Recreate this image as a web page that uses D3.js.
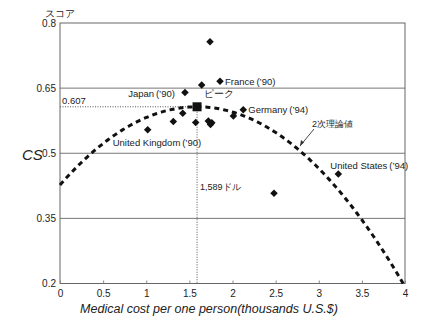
<!DOCTYPE html>
<html>
<head>
<meta charset="utf-8">
<script src="https://cdn.jsdelivr.net/npm/d3@7"></script>
<style>
  html, body { margin: 0; padding: 0; background: #fff; }
  svg { display: block; }
  text { font-family: "Liberation Sans", Arial, sans-serif; fill: #222; }
</style>
</head>
<body>
<svg id="chart" width="438" height="327"></svg>
<script>
// Country observations: medical cost per person (thousand US$) vs CS score
const costX = [1.739, 1.855, 1.643, 1.449, 1.423, 1.314, 1.573, 1.72, 1.76, 1.745, 1.017, 2.01, 2.125, 3.227, 2.481];
const scoreY = [0.757, 0.666, 0.657, 0.640, 0.592, 0.573, 0.571, 0.574, 0.570, 0.566, 0.554, 0.586, 0.600, 0.452, 0.408];

// Labelled countries
const labelNames = ["Japan\u2009(\u201990)", "France\u2009(\u201990)", "Germany\u2009(\u201994)", "United Kingdom\u2009(\u201990)", "United States\u2009(\u201994)"];
const labelX = [1.449, 1.855, 2.125, 1.017, 3.227];
const labelY = [0.640, 0.666, 0.600, 0.554, 0.452];

// Peak of the fitted quadratic
const peakX = 1.589;
const peakY = 0.607;
const curveA = 0.0713;      // y = peakY - curveA * (x - peakX)^2

const xTicks = [0, 0.5, 1, 1.5, 2, 2.5, 3, 3.5, 4];
const yTicks = [0.2, 0.35, 0.5, 0.65, 0.8];

const svg = d3.select("#chart");
const x = d3.scaleLinear().domain([0, 4]).range([60, 405]);
const y = d3.scaleLinear().domain([0.2, 0.8]).range([283.5, 23]);

// horizontal grid lines
svg.append("g").selectAll("line").data(yTicks.slice(1, 4)).join("line")
  .attr("x1", x(0)).attr("x2", x(4))
  .attr("y1", d => y(d)).attr("y2", d => y(d))
  .attr("stroke", "#777").attr("stroke-width", 1);

// frame
svg.append("rect")
  .attr("x", x(0)).attr("y", y(0.8))
  .attr("width", x(4) - x(0)).attr("height", y(0.2) - y(0.8))
  .attr("fill", "none").attr("stroke", "#666").attr("stroke-width", 1);

// axes
const yAxis = d3.axisLeft(y).tickValues(yTicks).tickSize(0).tickPadding(4)
  .tickFormat(d => d3.format("")(d));
svg.append("g").attr("transform", `translate(${x(0)},0)`).call(yAxis)
  .call(g => g.select(".domain").remove())
  .selectAll("text").attr("font-size", 10).attr("fill", "#222");

const xAxis = d3.axisBottom(x).tickValues(xTicks).tickSize(-3).tickPadding(6)
  .tickFormat(d => d3.format("")(d));
svg.append("g").attr("transform", `translate(0,${y(0.2)})`).call(xAxis)
  .call(g => g.select(".domain").remove())
  .call(g => g.selectAll(".tick line").attr("stroke", "#888"))
  .selectAll("text").attr("font-size", 10).attr("fill", "#222");

// peak reference lines (dotted)
svg.append("line")
  .attr("x1", x(0)).attr("x2", x(peakX))
  .attr("y1", y(peakY)).attr("y2", y(peakY))
  .attr("stroke", "#555").attr("stroke-width", 1).attr("stroke-dasharray", "1,1.5");
svg.append("line")
  .attr("x1", x(peakX)).attr("x2", x(peakX))
  .attr("y1", y(peakY)).attr("y2", y(0.2))
  .attr("stroke", "#555").attr("stroke-width", 1).attr("stroke-dasharray", "1,1.5");

// fitted quadratic (dashed)
const xEnd = peakX + Math.sqrt((peakY - 0.2) / curveA);
const curvePts = d3.range(0, 201).map(i => {
  const xv = xEnd * i / 200;
  return [xv, peakY - curveA * (xv - peakX) ** 2];
});
svg.append("path")
  .attr("d", d3.line().x(d => x(d[0])).y(d => y(d[1]))(curvePts))
  .attr("fill", "none").attr("stroke", "#111").attr("stroke-width", 3)
  .attr("stroke-dasharray", "5,4");

// data points (diamonds)
const diamond = d3.symbol().type(d3.symbolDiamond2).size(36);
svg.append("g").selectAll("path").data(costX.map((c, i) => [c, scoreY[i]])).join("path")
  .attr("d", diamond)
  .attr("transform", d => `translate(${x(d[0])},${y(d[1])})`)
  .attr("fill", "#111");

// peak marker
svg.append("rect")
  .attr("x", x(peakX) - 4.5).attr("y", y(peakY) - 4.5)
  .attr("width", 9).attr("height", 9).attr("fill", "#111");

// country labels: [dx, dy, anchor]
const labelOffsets = [[-10, 5, "end"], [5, 4, "start"], [5, 3, "start"], [-35, 16, "start"], [-8, -5, "start"]];
svg.append("g").selectAll("text").data(labelNames).join("text")
  .attr("x", (d, i) => x(labelX[i]) + labelOffsets[i][0])
  .attr("y", (d, i) => y(labelY[i]) + labelOffsets[i][1])
  .attr("text-anchor", (d, i) => labelOffsets[i][2])
  .attr("font-size", 9.5)
  .text(d => d);

// annotations
svg.append("text").attr("x", x(peakX) + 7).attr("y", y(peakY) - 10)
  .attr("font-size", 9.5).attr("font-family", "'Noto Sans CJK JP', sans-serif").text("ピーク");
svg.append("text").attr("x", x(0) + 2).attr("y", y(peakY) - 3)
  .attr("font-size", 9.5).text(d3.format(".3f")(peakY));
svg.append("text").attr("x", x(peakX) + 3).attr("y", 190)
  .attr("font-size", 9).attr("font-family", "'Noto Sans CJK JP', sans-serif")
  .text(d3.format(",")(Math.round(peakX * 1000)) + "ドル");
svg.append("text").attr("x", 312).attr("y", 127)
  .attr("font-size", 9).attr("font-family", "'Noto Sans CJK JP', sans-serif").text("2次理論値");

// arrow pointing to the fitted curve
const arrowEnd = [300, 146];
svg.append("line")
  .attr("x1", 314).attr("y1", 129).attr("x2", arrowEnd[0]).attr("y2", arrowEnd[1])
  .attr("stroke", "#333").attr("stroke-width", 0.9);
svg.append("path")
  .attr("d", `M${arrowEnd[0]},${arrowEnd[1]} l1,-6 l3,2.5 z`)
  .attr("fill", "#333");

// axis titles
svg.append("text").attr("x", 45).attr("y", 17)
  .attr("font-size", 9.5).attr("font-family", "'Noto Sans CJK JP', sans-serif").text("スコア");
svg.append("text").attr("x", 22).attr("y", 160)
  .attr("font-size", 15).attr("font-style", "italic")
  .attr("font-family", "'Open Sans', sans-serif").text("CS");
svg.append("text").attr("x", 209).attr("y", 313).attr("text-anchor", "middle")
  .attr("font-size", 12.5).attr("font-style", "italic")
  .attr("font-family", "'Open Sans', sans-serif")
  .text("Medical cost per one person(thousands U.S.$)");
</script>
</body>
</html>
